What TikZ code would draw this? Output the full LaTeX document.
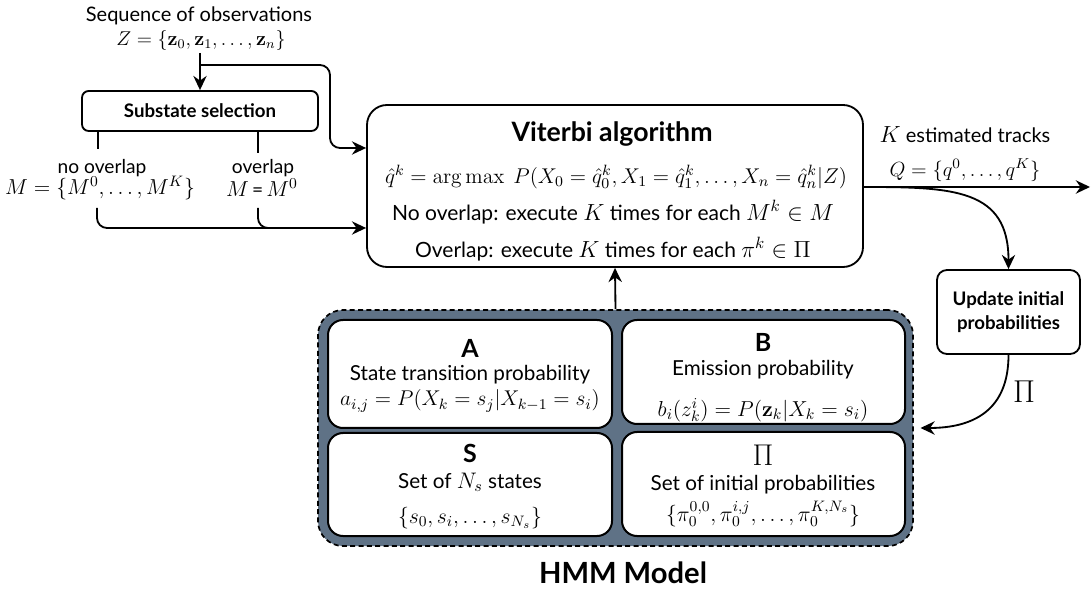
\RequirePackage{fix-cm}
\documentclass[tikz,border=0pt]{standalone}
\usepackage[no-math]{fontspec}
\setmainfont{Lato}
\usetikzlibrary{arrows.meta,calc}

\definecolor{hmmfill}{HTML}{5F7286}
\newcommand{\fsz}[2]{\fontsize{#1}{#2}\selectfont}
\newcommand{\mth}[2]{{\fontsize{#1}{#1}\selectfont$#2$}}
\def\u{0.6pt}

\begin{document}
\begin{tikzpicture}[x=0.6pt,y=-0.6pt,
  line/.style={line width=1.1pt},
  arr/.style={line, -{Stealth[length=8.5pt,width=8pt,inset=2.8pt]}},
  proc/.style={draw, line width=1.1pt, fill=white, align=center, inner sep=0pt},
  cell/.style={draw, line width=1.2pt, fill=white, rounded corners=9pt, inner sep=0pt},
  lbl/.style={align=center, inner sep=1pt, font=\fsz{11.5}{14}},
  vtxt/.style={inner sep=1pt, font=\fsz{12.6}{15}},
  ttl/.style={inner sep=1pt, font=\bfseries\fsz{15}{17}},
  body/.style={inner sep=1pt, font=\fsz{12.4}{15}},
]
\useasboundingbox (0,0) rectangle (1091,593);

% input sequence
\node[lbl, font=\fsz{12}{14}] (seq) at (199,16) {Sequence of observations};
\node[lbl] (zset) at (201,41) {\mth{12}{Z=\{\mathbf z_0,\mathbf z_1,\dots,\mathbf z_n\}}};

% substate selection
\node[proc, rounded corners=4pt, minimum width=236*\u, minimum height=40*\u,
      font=\bfseries\fsz{11.2}{14}] (sub) at (200,111) {Substate selection};
\node[lbl] (nol) at (102,168) {no overlap};
\node[lbl] (nom) at (100,188) {\mth{13}{M=\{M^0,\dots,M^K\}}};
\node[lbl] (ovl) at (263,168) {overlap};
\node[lbl] (ovm) at (262,188) {\mth{13}{M}\,=\,\mth{13}{M^0}};

% Viterbi block
\node[proc, rounded corners=12pt, minimum width=496*\u, minimum height=162*\u] (vit) at (615,186) {};
\node[inner sep=1pt, font=\bfseries\fsz{16}{20}] (vtitle) at (612,134) {Viterbi algorithm};
\node[vtxt] (vl1) at (616,177) {\mth{12.8}{\hat q^k=\arg\max\ P(X_0=\hat q_0^k,X_1=\hat q_1^k,\dots,X_n=\hat q_n^k|Z)}};
\node[vtxt] (vl2) at (613,212) {No overlap: execute \mth{14}{K} times for each \mth{14}{M^k\in M}};
\node[vtxt] (vl3) at (613,249) {Overlap: execute \mth{14}{K} times for each \mth{14}{\pi^k\in\Pi}};

% output
\node[lbl, font=\fsz{12}{14}] (ktr) at (965,135) {\mth{14}{K} estimated tracks};
\node[lbl] (qset) at (965,170) {\mth{12.3}{Q=\{q^0,\dots,q^K\}}};
\node[proc, rounded corners=6pt, minimum width=143*\u, minimum height=84*\u,
      font=\bfseries\fsz{11.2}{14.4}] (upd) at (1008.5,312) {Update initial\\probabilities};
\node (piL) at (1024,392) {\mth{19}{\Pi}};

% HMM model
\node[draw, dash pattern=on 3pt off 2pt, line width=1pt, fill=hmmfill, rounded corners=15pt,
      minimum width=595*\u, minimum height=236*\u] (hmm) at (615.5,428) {};
\node[cell, minimum width=284*\u, minimum height=108*\u] (cA) at (470,374) {};
\node[cell, minimum width=284*\u, minimum height=103*\u] (cS) at (470,484.5) {};
\node[cell, minimum width=283*\u, minimum height=104*\u] (cB) at (763.5,372) {};
\node[cell, minimum width=283*\u, minimum height=104*\u] (cP) at (763.5,484) {};

\node[ttl] (tA) at (470,348) {A};
\node[body] (dA) at (470,375) {State transition probability};
\node[body] (fA) at (470,401) {\mth{12.8}{a_{i,j}=P(X_k=s_j|X_{k-1}=s_i)}};

\node[ttl] (tS) at (470,453) {S};
\node[body] (dS) at (470,482) {Set of \mth{13.5}{N_s} states};
\node[body] (fS) at (470,518) {\mth{13}{\{s_0,s_i,\dots,s_{N_s}\}}};

\node[ttl] (tB) at (763,342) {B};
\node[body] (dB) at (763,370) {Emission probability};
\node[body] (fB) at (763,410) {\mth{13}{b_i(z_k^i)=P(\mathbf z_k|X_k=s_i)}};

\node[inner sep=1pt] (tP) at (763,455) {\mth{18}{\Pi}};
\node[body] (dP) at (763,485) {Set of initial probabilities};
\node[body] (fP) at (763,514) {\mth{13}{\{\pi_0^{0,0},\pi_0^{i,j},\dots,\pi_0^{K,N_s}\}}};

\node[inner sep=1pt, font=\bfseries\fsz{17.5}{21}] (hmmT) at (623,573) {HMM Model};

% connectors
\coordinate (split) at (200,65);
\coordinate (yin1) at (0,148);
\coordinate (yin2) at (0,228);
\coordinate (noEnd) at (98,149);
\coordinate (ovEnd) at (258,153);
\coordinate (noM) at (97,208);
\coordinate (ovM) at (258,208);
\coordinate (join) at (300,228);
\coordinate (outQ) at (1090,187);

\draw[arr] (zset.south -| sub.north) -- (sub.north);
\draw[arr, rounded corners=6pt] (split) -- (330,65) -- (330,148) -- (vit.west |- yin1);
\draw[line] (sub.south -| noEnd) -- (noEnd);
\draw[line] (sub.south -| ovEnd) -- (ovEnd);
\draw[arr, rounded corners=6pt] (noM) |- (vit.west |- yin2);
\draw[line, rounded corners=6pt] (ovM) |- (join);
\draw[arr] (hmm.north) -- (vit.south);
\draw[arr] (vit.east |- outQ) -- (outQ);
\draw[arr] (vit.east |- outQ) .. controls +(90,0) and +(0,-80) .. (upd.north);
\draw[arr, shorten >=4pt] (upd.south) .. controls +(0,55) and +(60,0) .. (hmm.east);
\end{tikzpicture}
\end{document}
